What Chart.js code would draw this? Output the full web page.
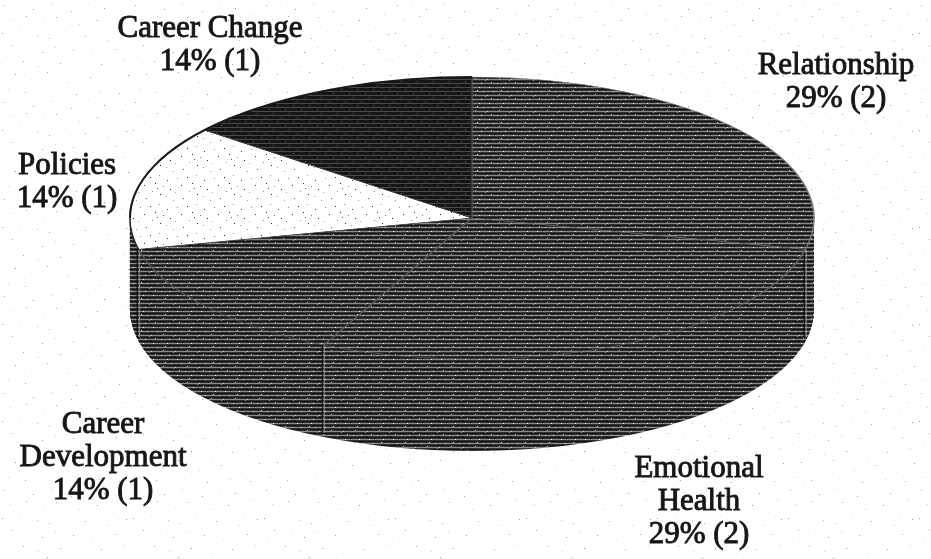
<!DOCTYPE html>
<html><head><meta charset="utf-8">
<style>html,body{margin:0;padding:0;background:#fff}canvas{display:block}</style>
<script src="https://cdn.jsdelivr.net/npm/chart.js@4"></script>
</head><body><canvas id="c" width="931" height="559"></canvas>
<script>
const categories = ['Relationship','Emotional Health','Career Development','Policies','Career Change'];
const counts = [2,2,1,1,1];
const percents = ['29%','29%','14%','14%','14%'];
const labelLines = [['Relationship'],['Emotional','Health'],['Career','Development'],['Policies'],['Career Change']];
const labelPlaces = [[836,66],[699,469],[103,425],[67,166],[210,29]];
const pieBox = {x:472,y:218,rx:342,ry:141,depth:92};

function tile(w,h,base,rows,dots){
  const t=document.createElement('canvas');t.width=w;t.height=h;
  const g=t.getContext('2d');g.fillStyle=base;g.fillRect(0,0,w,h);
  rows.forEach(r=>{g.fillStyle=r[1];g.fillRect(0,r[0],w,1);});
  dots.forEach(d=>{g.fillStyle=d[2];g.fillRect(d[0],d[1],1,1);});
  return t;
}
const ctx0=document.getElementById('c').getContext('2d');
const pat=t=>ctx0.createPattern(t,'repeat');
const midDots=[[1,3,'#ddd'],[5,0,'#999'],[9,7,'#eee'],[3,11,'#ccc'],[11,2,'#aaa'],[13,11,'#eee'],[7,15,'#ddd'],[14,6,'#000'],[2,9,'#000'],[6,4,'#000'],[17,3,'#ccc'],[21,10,'#ddd'],[19,14,'#aaa'],[23,7,'#eee'],[10,13,'#000'],[18,1,'#000']];
const midRows=[[3,'#8a8a8a'],[7,'#8a8a8a'],[11,'#8a8a8a'],[15,'#8a8a8a'],[1,'#161616'],[5,'#161616'],[9,'#161616'],[13,'#161616']];
const pMid=pat(tile(24,16,'#333',midRows,midDots));
const pMid2=pat(tile(24,16,'#333',midRows,midDots));
const pDark=pat(tile(16,16,'#161616',[[3,'#4a4a4a'],[7,'#4a4a4a'],[11,'#4a4a4a'],[15,'#4a4a4a']],[[1,1,'#666'],[9,5,'#666'],[5,9,'#666'],[13,13,'#666'],[3,5,'#000']]));
const pWhite=pat(tile(37,29,'#fff',[],[[2,3,'#222'],[11,1,'#999'],[19,6,'#444'],[7,9,'#222'],[15,12,'#777'],[22,15,'#222'],[4,17,'#888'],[12,20,'#222'],[18,22,'#999'],[9,14,'#555'],[29,4,'#888'],[33,11,'#333'],[27,18,'#aaa'],[35,24,'#555'],[25,26,'#999']]));
const pSide=pat(tile(24,16,'#303030',midRows,midDots));
const pPaper=pat(tile(131,97,'#fff',[],[
 [4,5,'#aaa'],[18,2,'#ddd'],[33,9,'#999'],[51,4,'#ccc'],[71,11,'#aaa'],[88,3,'#ddd'],[104,8,'#999'],[122,14,'#ccc'],
 [10,19,'#ccc'],[26,16,'#aaa'],[44,22,'#ddd'],[56,17,'#aaa'],[79,24,'#ccc'],[97,20,'#999'],[113,27,'#ddd'],
 [2,33,'#999'],[20,30,'#ddd'],[37,35,'#bbb'],[49,38,'#aaa'],[65,31,'#ddd'],[85,36,'#aaa'],[108,40,'#ccc'],[126,34,'#999'],
 [12,45,'#aaa'],[29,48,'#ddd'],[42,52,'#999'],[55,47,'#ccc'],[73,50,'#aaa'],[92,55,'#ddd'],[116,49,'#aaa'],
 [6,56,'#ddd'],[23,61,'#aaa'],[38,66,'#ccc'],[60,63,'#999'],[81,68,'#ddd'],[101,64,'#aaa'],[124,60,'#ccc'],
 [15,74,'#999'],[31,79,'#ddd'],[47,72,'#aaa'],[68,82,'#ccc'],[90,77,'#aaa'],[110,84,'#ddd'],[128,75,'#999'],
 [8,89,'#ccc'],[25,92,'#aaa'],[53,90,'#ddd'],[76,94,'#999'],[99,91,'#ccc'],[119,93,'#aaa']]));
const fills=[pMid,pMid2,pMid,pWhite,pDark];
const allPats=[pMid,pMid2,pDark,pWhite,pSide];

function setMatrix(ctx,a,dy){
  const r=a.outerRadius;
  ctx.translate(pieBox.x,pieBox.y+dy);
  ctx.scale(pieBox.rx/r,pieBox.ry/r);
  ctx.translate(-a.x,-a.y);
  const inv=ctx.getTransform().inverse();
  allPats.forEach(p=>p.setTransform(inv));
}
const pie3d={
  id:'pie3d',
  beforeDraw(chart){const c=chart.ctx;c.save();c.fillStyle=pPaper;c.fillRect(0,0,chart.width,chart.height);c.restore();},
  beforeDatasetsDraw(chart){
    const c=chart.ctx, arcs=chart.getDatasetMeta(0).data;
    for(let d=pieBox.depth;d>=1;d--){
      c.save();setMatrix(c,arcs[0],d);
      arcs.forEach(a=>{
        const s=Object.create(a);
        s.options=Object.assign({},a.options,{backgroundColor:pSide,borderWidth:0});
        s.draw(c);
      });
      c.restore();
    }
    // side seams at slice boundaries on the near half
    arcs.forEach(a=>{
      const ang=a.endAngle, sn=Math.sin(ang);
      if(sn<=0.02) return;
      const px=pieBox.x+pieBox.rx*Math.cos(ang), py=pieBox.y+pieBox.ry*sn;
      c.save();
      c.fillStyle='rgba(10,10,10,.8)';c.fillRect(px-2,py,1.5,pieBox.depth-4);
      c.fillStyle='rgba(170,170,170,.6)';c.fillRect(px,py,1.5,pieBox.depth-4);
      c.restore();
    });
    c.save();setMatrix(c,arcs[0],0);
  },
  afterDatasetsDraw(chart){
    const c=chart.ctx;c.restore();
    // outer silhouette on the far-left rim
    c.save();c.strokeStyle='#1a1a1a';c.lineWidth=2;c.beginPath();
    c.ellipse(pieBox.x,pieBox.y,pieBox.rx,pieBox.ry,0,Math.PI*1.0,Math.PI*1.5);c.stroke();c.restore();
    c.save();
    c.font='31px "Liberation Serif"';c.textAlign='center';c.textBaseline='middle';
    c.fillStyle='#161616';c.strokeStyle='#161616';c.lineWidth=0.9;
    labelLines.forEach((ls,i)=>{
      const lines=ls.concat([percents[i]+' ('+counts[i]+')']);
      const p=labelPlaces[i];
      lines.forEach((t,j)=>{
        const y=p[1]+j*33;
        c.fillText(t,p[0],y);c.strokeText(t,p[0],y);
      });
    });
    c.restore();
  }
};
new Chart(ctx0,{
  type:'pie',
  data:{labels:categories,datasets:[{data:counts,backgroundColor:fills,
    borderColor:['#7a7a7a','#6a6a6a','#5c5c5c','#222','#444'],borderWidth:1.2,clip:false}]},
  options:{responsive:false,animation:false,rotation:0,
    layout:{padding:0},
    plugins:{legend:{display:false},tooltip:{enabled:false},title:{display:false}}},
  plugins:[pie3d]
});
</script></body></html>
